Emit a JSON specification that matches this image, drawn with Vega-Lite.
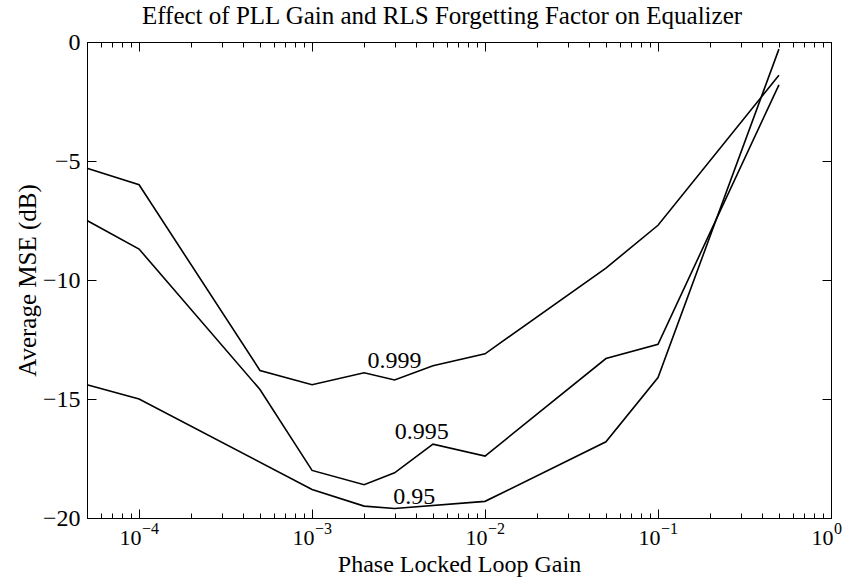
{
  "$schema": "https://vega.github.io/schema/vega-lite/v6.json",
  "width": 744,
  "height": 476,
  "autosize": {"type": "none"},
  "padding": {"left": 87, "top": 42, "right": 21, "bottom": 59},
  "background": "white",
  "title": {
    "text": "Effect of PLL Gain and RLS Forgetting Factor on Equalizer",
    "font": "Liberation Serif",
    "fontSize": 25,
    "fontWeight": "normal",
    "color": "black",
    "offset": 1,
    "dx": -17
  },
  "datasets": {
    "curves": [
      {"gain": 5e-5, "mse": -5.3, "ff": "0.999"},
      {"gain": 1e-4, "mse": -6.0, "ff": "0.999"},
      {"gain": 5e-4, "mse": -13.8, "ff": "0.999"},
      {"gain": 1e-3, "mse": -14.4, "ff": "0.999"},
      {"gain": 2e-3, "mse": -13.9, "ff": "0.999"},
      {"gain": 3e-3, "mse": -14.2, "ff": "0.999"},
      {"gain": 5e-3, "mse": -13.6, "ff": "0.999"},
      {"gain": 1e-2, "mse": -13.1, "ff": "0.999"},
      {"gain": 5e-2, "mse": -9.5, "ff": "0.999"},
      {"gain": 1e-1, "mse": -7.7, "ff": "0.999"},
      {"gain": 5e-1, "mse": -1.4, "ff": "0.999"},
      {"gain": 5e-5, "mse": -7.5, "ff": "0.995"},
      {"gain": 1e-4, "mse": -8.7, "ff": "0.995"},
      {"gain": 5e-4, "mse": -14.6, "ff": "0.995"},
      {"gain": 1e-3, "mse": -18.0, "ff": "0.995"},
      {"gain": 2e-3, "mse": -18.6, "ff": "0.995"},
      {"gain": 3e-3, "mse": -18.1, "ff": "0.995"},
      {"gain": 5e-3, "mse": -16.9, "ff": "0.995"},
      {"gain": 1e-2, "mse": -17.4, "ff": "0.995"},
      {"gain": 5e-2, "mse": -13.3, "ff": "0.995"},
      {"gain": 1e-1, "mse": -12.7, "ff": "0.995"},
      {"gain": 5e-1, "mse": -1.8, "ff": "0.995"},
      {"gain": 5e-5, "mse": -14.4, "ff": "0.95"},
      {"gain": 1e-4, "mse": -15.0, "ff": "0.95"},
      {"gain": 1e-3, "mse": -18.8, "ff": "0.95"},
      {"gain": 2e-3, "mse": -19.5, "ff": "0.95"},
      {"gain": 3e-3, "mse": -19.6, "ff": "0.95"},
      {"gain": 1e-2, "mse": -19.3, "ff": "0.95"},
      {"gain": 5e-2, "mse": -16.8, "ff": "0.95"},
      {"gain": 1e-1, "mse": -14.1, "ff": "0.95"},
      {"gain": 5e-1, "mse": -0.3, "ff": "0.95"}
    ],
    "labels": [
      {"gain": 3.0e-3, "mse": -13.4, "label": "0.999"},
      {"gain": 4.3e-3, "mse": -16.4, "label": "0.995"},
      {"gain": 3.9e-3, "mse": -19.1, "label": "0.95"}
    ],
    "exponents": [
      {"gain": 1e-4, "exp": "−4"},
      {"gain": 1e-3, "exp": "−3"},
      {"gain": 1e-2, "exp": "−2"},
      {"gain": 1e-1, "exp": "−1"},
      {"gain": 1, "exp": "0"}
    ]
  },
  "layer": [
    {
      "data": {"name": "curves"},
      "mark": {"type": "line", "color": "black", "strokeWidth": 1.6},
      "encoding": {
        "x": {
          "field": "gain",
          "type": "quantitative",
          "scale": {"type": "log", "domain": [5e-5, 1], "nice": false},
          "axis": {
            "orient": "bottom",
            "title": "Phase Locked Loop Gain",
            "titlePadding": 0,
            "titleFontSize": 24,
            "values": [5e-5, 6e-5, 7e-5, 8e-5, 9e-5, 1e-4, 2e-4, 3e-4, 4e-4, 5e-4, 6e-4, 7e-4, 8e-4, 9e-4, 1e-3, 2e-3, 3e-3, 4e-3, 5e-3, 6e-3, 7e-3, 8e-3, 9e-3, 1e-2, 2e-2, 3e-2, 4e-2, 5e-2, 6e-2, 7e-2, 8e-2, 9e-2, 0.1, 0.2, 0.3, 0.4, 0.5, 0.6, 0.7, 0.8, 0.9, 1],
            "labelExpr": "abs(log(datum.value)/LN10 - round(log(datum.value)/LN10)) < 0.001 ? '10' : ''",
            "labelAlign": "right",
            "labelOffset": 2,
            "labelPadding": 18,
            "labelFontSize": 22,
            "labelFlush": false,
            "labelOverlap": false,
            "tickSize": {"condition": {"test": "abs(log(datum.value)/LN10 - round(log(datum.value)/LN10)) < 0.001", "value": -9}, "value": -5}
          }
        },
        "y": {
          "field": "mse",
          "type": "quantitative",
          "scale": {"domain": [-20, 0], "nice": false},
          "axis": {
            "orient": "left",
            "title": "Average MSE (dB)",
            "titlePadding": 2,
            "values": [-20, -15, -10, -5, 0],
            "labelPadding": 16,
            "tickSize": -9
          }
        },
        "detail": {"field": "ff"}
      }
    },
    {
      "data": {"name": "labels"},
      "mark": {"type": "text", "font": "Liberation Serif", "fontSize": 24, "color": "black", "align": "center", "baseline": "middle"},
      "encoding": {
        "x": {
          "field": "gain",
          "type": "quantitative",
          "axis": {
            "orient": "top",
            "title": null,
            "labels": false,
            "values": [5e-5, 6e-5, 7e-5, 8e-5, 9e-5, 1e-4, 2e-4, 3e-4, 4e-4, 5e-4, 6e-4, 7e-4, 8e-4, 9e-4, 1e-3, 2e-3, 3e-3, 4e-3, 5e-3, 6e-3, 7e-3, 8e-3, 9e-3, 1e-2, 2e-2, 3e-2, 4e-2, 5e-2, 6e-2, 7e-2, 8e-2, 9e-2, 0.1, 0.2, 0.3, 0.4, 0.5, 0.6, 0.7, 0.8, 0.9, 1],
            "tickSize": {"condition": {"test": "abs(log(datum.value)/LN10 - round(log(datum.value)/LN10)) < 0.001", "value": -9}, "value": -5}
          }
        },
        "y": {
          "field": "mse",
          "type": "quantitative",
          "axis": {
            "orient": "right",
            "title": null,
            "labels": false,
            "values": [-15, -10, -5],
            "tickSize": -9
          }
        },
        "text": {"field": "label"}
      }
    },
    {
      "data": {"name": "exponents"},
      "mark": {"type": "text", "font": "Liberation Serif", "fontSize": 16, "color": "black", "align": "left", "baseline": "alphabetic", "dx": 3, "dy": 16},
      "encoding": {
        "x": {"field": "gain", "type": "quantitative", "axis": null},
        "y": {"datum": -20, "type": "quantitative", "axis": null},
        "text": {"field": "exp"}
      }
    }
  ],
  "config": {
    "font": "Liberation Serif",
    "view": {"stroke": "black", "strokeWidth": 1},
    "axis": {
      "grid": false,
      "domainColor": "black",
      "domainWidth": 1,
      "tickColor": "black",
      "tickWidth": 1,
      "labelColor": "black",
      "titleColor": "black",
      "labelFont": "Liberation Serif",
      "titleFont": "Liberation Serif",
      "labelFontSize": 24,
      "titleFontSize": 25,
      "titleFontWeight": "normal"
    }
  }
}
